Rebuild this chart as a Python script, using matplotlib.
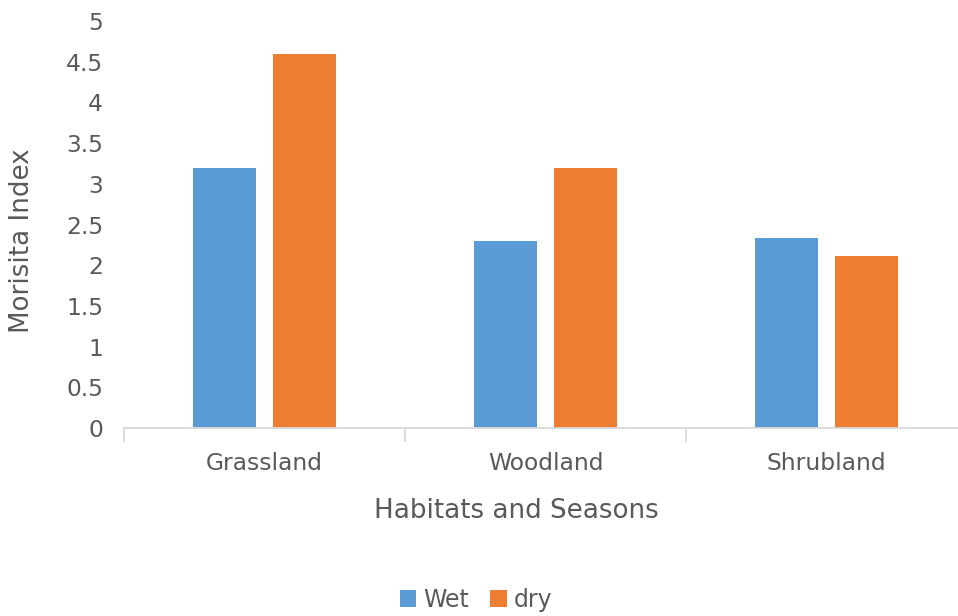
import numpy as np
import matplotlib.pyplot as plt

habitats = ["Grassland", "Woodland", "Shrubland"]
wet = [3.2, 2.3, 2.33]
dry = [4.6, 3.2, 2.11]
yticks = [0, 0.5, 1, 1.5, 2, 2.5, 3, 3.5, 4, 4.5, 5]
ytick_labels = ["0", "0.5", "1", "1.5", "2", "2.5", "3", "3.5", "4", "4.5", "5"]

text_color = "#595959"
axis_color = "#d9d9d9"

fig = plt.figure(figsize=(9.58, 6.16), dpi=100)
ax = fig.add_axes([124 / 958, 188 / 616, 843 / 958, 407 / 616])

x = np.arange(len(habitats))
width = 0.224
gap = 0.06
ax.bar(x - (width + gap) / 2, wet, width, color="#5b9bd5", label="Wet")
ax.bar(x + (width + gap) / 2, dry, width, color="#ed7d31", label="dry")

ax.set_xlim(-0.5, len(habitats) - 0.5)
ax.set_ylim(0, 5)
ax.set_yticks(yticks)
ax.set_yticklabels(ytick_labels)

ax.set_xticks(x)
ax.set_xticklabels(habitats)
ax.set_xticks(np.arange(len(habitats) + 1) - 0.5, minor=True)
ax.tick_params(axis="x", which="major", length=0, pad=17.5, labelsize=16.8, labelcolor=text_color)
ax.tick_params(axis="x", which="minor", length=10, width=1.3, color=axis_color)
ax.tick_params(axis="y", length=0, pad=15, labelsize=16.8, labelcolor=text_color)

for s in ["top", "right", "left"]:
    ax.spines[s].set_visible(False)
ax.spines["bottom"].set_color(axis_color)
ax.spines["bottom"].set_linewidth(1.3)

# axis titles placed in figure coordinates
fig.text(516 / 958, 1 - 511 / 616, "Habitats and Seasons", fontsize=18.8, color=text_color,
         ha="center", va="center")
fig.text(22 / 958, 1 - 241 / 616, "Morisita Index", fontsize=18.8, color=text_color,
         rotation=90, ha="center", va="center")

fig.legend(loc="center", bbox_to_anchor=(476 / 958, 1 - 600 / 616), ncol=2, frameon=False,
           fontsize=17, labelcolor=text_color, handlelength=0.7, handleheight=0.7,
           handletextpad=0.3, columnspacing=0.9)

fig.savefig("out.png", dpi=100)
